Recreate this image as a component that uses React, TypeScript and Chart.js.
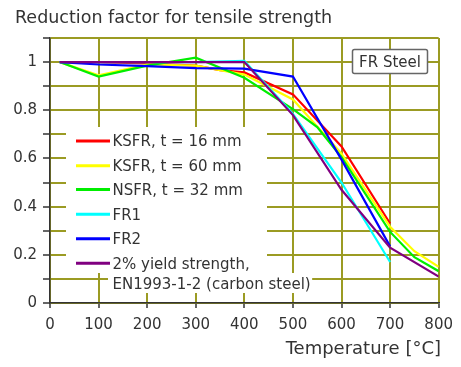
import React, { useEffect, useRef } from "react";
import { Chart, registerables } from "chart.js";

Chart.register(...registerables);

const titleText = "Reduction factor for tensile strength";
const xAxisTitle = "Temperature [°C]";
const boxLabel = "FR Steel";

const seriesNames = [
  "KSFR, t = 16 mm",
  "KSFR, t = 60 mm",
  "NSFR, t = 32 mm",
  "FR1",
  "FR2",
  "2% yield strength,",
];
const lastNameSecondLine = "EN1993-1-2 (carbon steel)";
const seriesColors = ["#ff0000", "#ffff00", "#00ee00", "#00ffff", "#0000ff", "#800080"];

const tempsKSFR16 = [20, 100, 200, 300, 350, 400, 500, 600, 700];
const valsKSFR16 = [1, 1, 0.995, 0.985, 0.967, 0.957, 0.866, 0.65, 0.33];
const tempsKSFR60 = [20, 100, 200, 300, 400, 500, 600, 700, 750, 800];
const valsKSFR60 = [1, 0.945, 0.99, 0.985, 0.948, 0.845, 0.62, 0.316, 0.215, 0.15];
const tempsNSFR = [20, 100, 200, 300, 400, 500, 550, 600, 700, 750, 800];
const valsNSFR = [1, 0.94, 0.985, 1.018, 0.935, 0.805, 0.73, 0.605, 0.295, 0.19, 0.132];
const tempsFR1 = [20, 100, 200, 300, 400, 500, 600, 700];
const valsFR1 = [1, 1, 1, 1, 1.005, 0.785, 0.5, 0.17];
const tempsFR2 = [20, 100, 200, 300, 400, 500, 600, 700];
const valsFR2 = [1, 0.99, 0.983, 0.975, 0.973, 0.94, 0.595, 0.235];
const tempsEN = [20, 100, 200, 300, 400, 500, 600, 700, 800];
const valsEN = [1, 1, 1, 1, 1, 0.78, 0.47, 0.23, 0.11];

const xTickValues = [0, 100, 200, 300, 400, 500, 600, 700, 800];

const FONT = "'DejaVu Sans', Verdana, sans-serif";
const GRID = "#9b9b23";
const TEXT = "#333333";

function zip(t: number[], v: number[]) {
  return t.map((x, i) => ({ x, y: v[i] }));
}

const overlayPlugin = {
  id: "overlay",
  afterDraw(chart: any) {
    const ctx = chart.ctx as CanvasRenderingContext2D;
    ctx.save();
    // title
    ctx.fillStyle = TEXT;
    ctx.font = `17.5px ${FONT}`;
    ctx.textAlign = "left";
    ctx.textBaseline = "alphabetic";
    ctx.fillText(titleText, 15, 22.5);
    // x axis title
    ctx.font = `18px ${FONT}`;
    ctx.textAlign = "right";
    ctx.fillText(xAxisTitle, 441, 353.5);

    // FR Steel box
    ctx.fillStyle = "#ffffff";
    ctx.strokeStyle = "#666666";
    ctx.lineWidth = 1.5;
    ctx.beginPath();
    (ctx as any).roundRect(352.5, 49.5, 75, 24, 2);
    ctx.fill();
    ctx.stroke();
    ctx.fillStyle = TEXT;
    ctx.font = `15px ${FONT}`;
    ctx.textAlign = "center";
    ctx.fillText(boxLabel, 390, 67);

    // legend
    ctx.fillStyle = "#ffffff";
    ctx.fillRect(66, 127, 201, 146);
    ctx.font = `15px ${FONT}`;
    const lastW = ctx.measureText(lastNameSecondLine).width;
    ctx.fillRect(108, 273, lastW + 6, 20);
    const rowY = [141, 165.7, 189.5, 214.3, 238.7, 263.3];
    ctx.textAlign = "left";
    seriesNames.forEach((name, i) => {
      const y = rowY[i];
      ctx.strokeStyle = seriesColors[i];
      ctx.lineWidth = 3;
      ctx.beginPath();
      ctx.moveTo(76, y);
      ctx.lineTo(110, y);
      ctx.stroke();
      ctx.fillStyle = TEXT;
      ctx.fillText(name, 112.5, y + 5.3);
    });
    ctx.fillText(lastNameSecondLine, 112.5, 284 + 5.3);
    ctx.restore();
  },
};

export default function App() {
  const ref = useRef<HTMLCanvasElement | null>(null);
  useEffect(() => {
    if (!ref.current) return;
    const pairs = [
      [tempsKSFR16, valsKSFR16],
      [tempsKSFR60, valsKSFR60],
      [tempsNSFR, valsNSFR],
      [tempsFR1, valsFR1],
      [tempsFR2, valsFR2],
      [tempsEN, valsEN],
    ];
    const chart = new Chart(ref.current, {
      type: "line",
      data: {
        datasets: pairs.map((p, i) => ({
          label: seriesNames[i],
          data: zip(p[0], p[1]),
          borderColor: seriesColors[i],
          backgroundColor: seriesColors[i],
          borderWidth: 2.2,
          pointRadius: 0,
          tension: 0,
          fill: false,
          order: 10 - i,
        })),
      },
      options: {
        responsive: false,
        animation: false,
        devicePixelRatio: 1,
        layout: { padding: { top: 38, right: 21, left: 0, bottom: 0 } },
        plugins: { legend: { display: false }, tooltip: { enabled: false }, title: { display: false } },
        scales: {
          x: {
            type: "linear",
            min: 0,
            max: 800,
            afterBuildTicks: (s: any) => {
              s.ticks = xTickValues.map((v) => ({ value: v }));
            },
            afterFit: (s: any) => {
              s.height = 64;
            },
            ticks: {
              stepSize: 100,
              color: TEXT,
              font: { family: FONT, size: 15 },
              padding: 8,
              maxRotation: 0,
            },
            grid: { color: GRID, lineWidth: 2, tickLength: 5, tickColor: TEXT, tickWidth: 1.5 },
            border: { color: TEXT, width: 1.5 },
          },
          y: {
            min: 0,
            max: 1.1,
            afterFit: (s: any) => {
              s.width = 50;
            },
            ticks: {
              stepSize: 0.1,
              color: TEXT,
              font: { family: FONT, size: 15 },
              padding: 6,
              callback: (v: any) => {
                const r = Math.round(Number(v) * 10);
                if (r % 2 !== 0 || r > 10) return "";
                return String(r / 10);
              },
            },
            grid: { color: GRID, lineWidth: 2, tickLength: 7, tickColor: TEXT, tickWidth: 1.5 },
            border: { color: TEXT, width: 1.5 },
          },
        },
      },
      plugins: [overlayPlugin],
    });
    return () => chart.destroy();
  }, []);
  return (
    <div style={{ position: "absolute", left: 0, top: 0, width: 461, height: 367, background: "#fff" }}>
      <canvas ref={ref} width={461} height={367} style={{ width: 461, height: 367 }} />
    </div>
  );
}
